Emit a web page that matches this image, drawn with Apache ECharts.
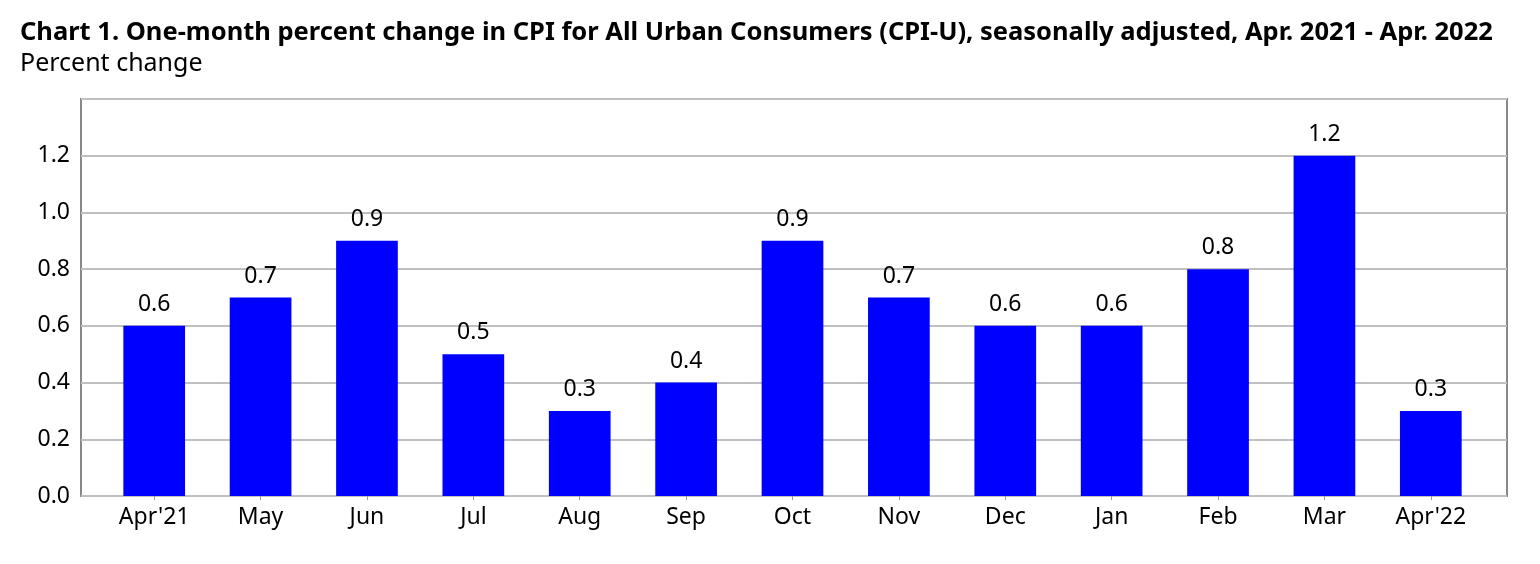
<!DOCTYPE html>
<html lang="en">
<head>
    <meta charset="UTF-8">
    <title>CPI-U one-month percent change</title>
    <script src="https://cdn.jsdelivr.net/npm/echarts@6/dist/echarts.min.js"></script>
    <style>
        html, body { margin: 0; padding: 0; background: #fff; }
        #chart { width: 1540px; height: 564px; }
    </style>
</head>
<body>
<div id="chart"></div>
<script>
    const months = ["Apr'21", 'May', 'Jun', 'Jul', 'Aug', 'Sep', 'Oct', 'Nov', 'Dec', 'Jan', 'Feb', 'Mar', "Apr'22"];
    const pctChange = [0.6, 0.7, 0.9, 0.5, 0.3, 0.4, 0.9, 0.7, 0.6, 0.6, 0.8, 1.2, 0.3];

    const font = 'Noto Sans';
    const chart = echarts.init(document.getElementById('chart'));

    // grid 0 = framed plot area with gridlines, grid 1 = inset area for the bars
    chart.setOption({
        animation: false,
        title: [{
            text: 'Chart 1. One-month percent change in CPI for All Urban Consumers (CPI-U), seasonally adjusted, Apr. 2021 - Apr. 2022',
            left: 15, top: 15,
            textStyle: {fontFamily: font, fontSize: 25.5, fontWeight: 'bold', color: '#000'}
        }, {
            text: 'Percent change',
            left: 15, top: 46,
            textStyle: {fontFamily: font, fontSize: 25, fontWeight: 'normal', color: '#000'}
        }],
        grid: [
            {left: 81, right: 33, top: 99, bottom: 68, show: true, borderColor: '#888', borderWidth: 2},
            {left: 101, right: 56, top: 99, bottom: 68}
        ],
        xAxis: [{
            gridIndex: 0, type: 'value', min: 0, max: 1,
            axisLine: {show: false}, axisTick: {show: false},
            axisLabel: {show: false}, splitLine: {show: false}
        }, {
            gridIndex: 1, type: 'category',
            data: months,
            axisLine: {show: false},
            axisTick: {show: true, alignWithLabel: true, length: 4, lineStyle: {color: '#999'}},
            axisLabel: {fontFamily: font, fontSize: 23, color: '#000', margin: 10}
        }],
        yAxis: [{
            gridIndex: 0, type: 'value',
            min: 0, max: 1.4, interval: 0.2,
            axisLine: {show: false},
            axisTick: {show: false},
            splitLine: {lineStyle: {color: '#c0c0c0', width: 2}},
            axisLabel: {
                fontFamily: font, fontSize: 23, color: '#000', margin: 11,
                formatter: v => v > 1.3 ? '' : v.toFixed(1)
            }
        }, {
            gridIndex: 1, type: 'value',
            min: 0, max: 1.4, interval: 0.2, show: false
        }],
        series: [{
            type: 'bar',
            xAxisIndex: 1, yAxisIndex: 1,
            data: pctChange,
            barWidth: '58%',
            itemStyle: {color: '#0000ff'},
            label: {
                show: true, position: 'top', distance: 10,
                fontFamily: font, fontSize: 23, color: '#000',
                formatter: p => p.value.toFixed(1)
            }
        }]
    });
</script>
</body>
</html>
